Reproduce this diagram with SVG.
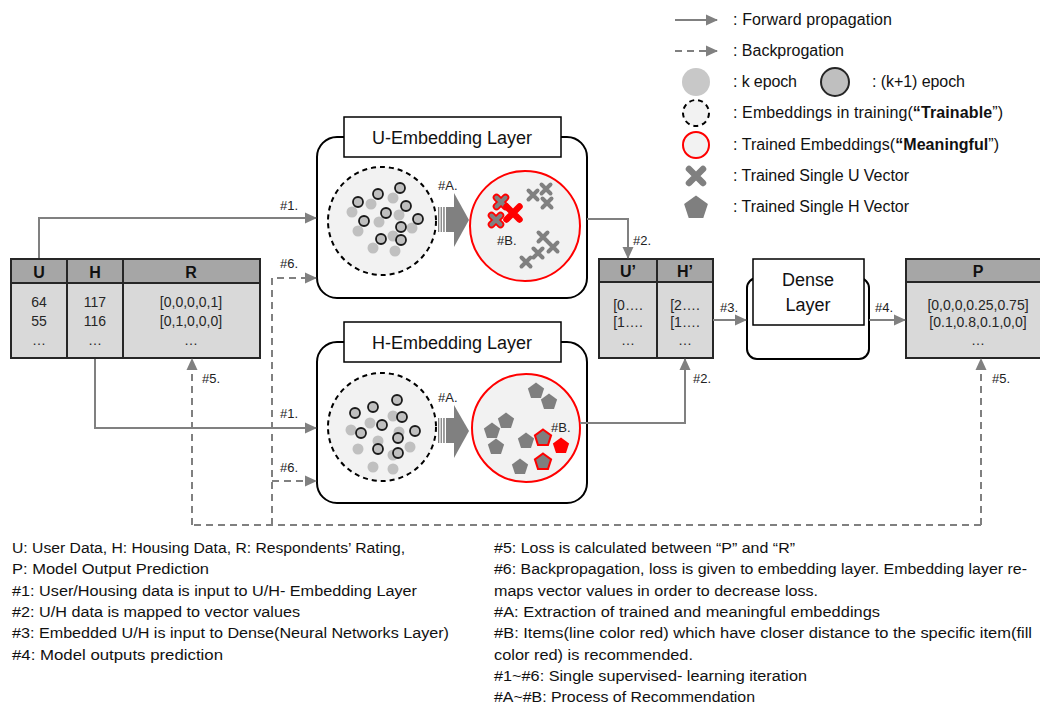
<svg xmlns="http://www.w3.org/2000/svg" xmlns:xlink="http://www.w3.org/1999/xlink" width="1040" height="706" viewBox="0 0 1040 706">
<style>
text{font-family:"Liberation Sans",Arial,sans-serif;fill:#111}
.leg{font-size:16px}
.note{font-size:15.5px}
.lbl{font-size:13px;fill:#222}
.hdr{font-size:16px;font-weight:bold;text-anchor:middle}
.cell{font-size:14px;text-anchor:middle;fill:#262626}
.ttl{font-size:18px;text-anchor:middle}
.fw{stroke:#808080;stroke-width:2;fill:none}
.bw{stroke:#808080;stroke-width:2;fill:none;stroke-dasharray:7 5}
.tbl{stroke:#262626;stroke-width:2}
.hd{fill:#a6a6a6}
.bd{fill:#d9d9d9}
.lt{fill:#c0c0c0}
.dk{fill:#bfbfbf;stroke:#1a1a1a;stroke-width:1.8}
.train{fill:#f2f2f2;stroke:#000;stroke-width:2;stroke-dasharray:5 4}
.done{fill:#f2f2f2;stroke:#ff0000;stroke-width:2}
.box{fill:#fff;stroke:#000;stroke-width:2}
.gx{stroke:#808080;stroke-width:4;stroke-linecap:round;fill:none}
.rxo{stroke:#ff0000;stroke-width:7.5;stroke-linecap:round;fill:none}
.rx{stroke:#ff0000;stroke-width:6.5;stroke-linecap:round;fill:none}
.gp{fill:#7f7f7f}
.rp{fill:#7f7f7f;stroke:#ff0000;stroke-width:2}
.fp{fill:#ff0000}
.big{fill:#808080}
</style>
<defs>
<marker id="ah" markerWidth="12" markerHeight="12" refX="11" refY="6" orient="auto" markerUnits="userSpaceOnUse"><path d="M0,0.5 L12,6 L0,11.5 Z" fill="#808080"/></marker>
<path id="xs" d="M-4.5,-4.5 L4.5,4.5 M4.5,-4.5 L-4.5,4.5"/>
<path id="xb" d="M-6.5,-6.5 L6.5,6.5 M6.5,-6.5 L-6.5,6.5"/>
<path id="pg" d="M0,-8.5 L8.1,-2.6 L5,6.9 L-5,6.9 L-8.1,-2.6Z"/>
</defs>
<rect width="1040" height="706" fill="#fff"/>

<g id="legend">
<path class="fw" d="M675,20 H717" marker-end="url(#ah)"/>
<text class="leg" x="733" y="25" textLength="159">: Forward propagation</text>
<path class="bw" d="M675,51 H717" marker-end="url(#ah)"/>
<text class="leg" x="733" y="56" textLength="111">: Backprogation</text>
<circle cx="696" cy="82" r="14" fill="#c8c8c8"/>
<text class="leg" x="733" y="87" textLength="64">: k epoch</text>
<circle cx="835" cy="82" r="14" fill="#bfbfbf" stroke="#262626" stroke-width="2"/>
<text class="leg" x="872" y="87" textLength="93">: (k+1) epoch</text>
<circle cx="696" cy="113" r="13" class="train"/>
<text class="leg" x="733" y="118" textLength="270">: Embeddings in training(<tspan font-weight="bold">“Trainable</tspan>”)</text>
<circle cx="696" cy="145" r="13" class="done"/>
<text class="leg" x="733" y="150" textLength="266">: Trained Embeddings(<tspan font-weight="bold">“Meaningful</tspan>”)</text>
<path d="M-7,-7 L7,7 M7,-7 L-7,7" transform="translate(696,176)" stroke="#808080" stroke-width="6.5" stroke-linecap="round" fill="none"/>
<text class="leg" x="733" y="181" textLength="176">: Trained Single U Vector</text>
<path d="M0,-12.5 L11.9,-3.9 L7.3,10.1 L-7.3,10.1 L-11.9,-3.9Z" transform="translate(696,208)" class="gp"/>
<text class="leg" x="733" y="212" textLength="176">: Trained Single H Vector</text>
</g>

<g id="input-table">
<rect x="11" y="259" width="249" height="24" class="hd"/>
<rect x="11" y="283" width="249" height="75" class="bd"/>
<rect x="11" y="259" width="249" height="99" fill="none" class="tbl"/>
<path d="M11,283 H260 M67,259 V358 M123,259 V358" class="tbl" fill="none"/>
<text class="hdr" x="39" y="278">U</text>
<text class="hdr" x="95" y="278">H</text>
<text class="hdr" x="191" y="278">R</text>
<text class="cell" x="39" y="307">64</text>
<text class="cell" x="39" y="326">55</text>
<text class="cell" x="39" y="345">…</text>
<text class="cell" x="95" y="307">117</text>
<text class="cell" x="95" y="326">116</text>
<text class="cell" x="95" y="345">…</text>
<text class="cell" x="191" y="307">[0,0,0,0,1]</text>
<text class="cell" x="191" y="326">[0,1,0,0,0]</text>
<text class="cell" x="191" y="345">…</text>
</g>

<g id="u-embedding">
<rect x="317" y="137" width="270" height="161" rx="20" class="box"/>
<rect x="344" y="117" width="217" height="40" fill="#fff" stroke="#000" stroke-width="1.5"/>
<text class="ttl" x="452" y="144">U-Embedding Layer</text>
<circle cx="382" cy="221" r="54" class="train"/>
<g class="lt">
<circle cx="393" cy="198" r="5.5"/><circle cx="371" cy="204" r="5.5"/><circle cx="352" cy="212" r="5.5"/><circle cx="399" cy="215" r="5.5"/><circle cx="379" cy="222" r="5.5"/><circle cx="412" cy="228" r="5.5"/><circle cx="358" cy="231" r="5.5"/><circle cx="393" cy="236" r="5.5"/><circle cx="373" cy="248" r="5.5"/><circle cx="395" cy="251" r="5.5"/>
</g>
<g class="dk">
<circle cx="400" cy="188" r="5"/><circle cx="378" cy="194" r="5"/><circle cx="358" cy="202" r="5"/><circle cx="406" cy="206" r="5"/><circle cx="386" cy="213" r="5"/><circle cx="364" cy="221" r="5"/><circle cx="418" cy="219" r="5"/><circle cx="401" cy="227" r="5"/><circle cx="401" cy="240" r="5"/><circle cx="381" cy="239" r="5"/>
</g>
<g class="big">
<rect x="438" y="207" width="1.3" height="25"/><rect x="440.6" y="207" width="1.3" height="25"/><rect x="443.2" y="207" width="1.5" height="25"/><rect x="446" y="207" width="9" height="25"/>
<path d="M454,193 L469,220 L454,247 Z"/>
</g>
<text class="lbl" x="438" y="190">#A.</text>
<circle cx="525" cy="226" r="55" class="done"/>
<use xlink:href="#xs" x="501" y="202" class="rxo"/><use xlink:href="#xs" x="501" y="202" class="gx"/>
<use xlink:href="#xs" x="496" y="220" class="rxo"/><use xlink:href="#xs" x="496" y="220" class="gx"/>
<use xlink:href="#xb" x="513" y="213" class="rx"/>
<use xlink:href="#xs" x="533" y="195" class="gx"/>
<use xlink:href="#xs" x="546" y="189" class="gx"/>
<use xlink:href="#xs" x="547" y="203" class="gx"/>
<use xlink:href="#xs" x="543" y="237" class="gx"/>
<use xlink:href="#xs" x="553" y="247" class="gx"/>
<use xlink:href="#xs" x="538" y="253" class="gx"/>
<use xlink:href="#xs" x="526" y="262" class="gx"/>
<text class="lbl" x="497" y="245">#B.</text>
</g>

<g id="h-embedding">
<rect x="317" y="342" width="270" height="161" rx="20" class="box"/>
<rect x="344" y="322" width="217" height="40" fill="#fff" stroke="#000" stroke-width="1.5"/>
<text class="ttl" x="452" y="349">H-Embedding Layer</text>
<circle cx="382" cy="427" r="54" class="train"/>
<g class="lt">
<circle cx="393" cy="416" r="5.5"/><circle cx="370" cy="423" r="5.5"/><circle cx="351" cy="430" r="5.5"/><circle cx="399" cy="432" r="5.5"/><circle cx="378" cy="441" r="5.5"/><circle cx="410" cy="447" r="5.5"/><circle cx="358" cy="449" r="5.5"/><circle cx="393" cy="455" r="5.5"/><circle cx="373" cy="467" r="5.5"/><circle cx="393" cy="469" r="5.5"/>
</g>
<g class="dk">
<circle cx="397" cy="400" r="5"/><circle cx="373" cy="407" r="5"/><circle cx="355" cy="413" r="5"/><circle cx="402" cy="417" r="5"/><circle cx="382" cy="425" r="5"/><circle cx="361" cy="433" r="5"/><circle cx="415" cy="431" r="5"/><circle cx="398" cy="438" r="5"/><circle cx="378" cy="449" r="5"/><circle cx="398" cy="453" r="5"/>
</g>
<g class="big">
<rect x="438" y="418" width="1.3" height="25"/><rect x="440.6" y="418" width="1.3" height="25"/><rect x="443.2" y="418" width="1.5" height="25"/><rect x="446" y="418" width="9" height="25"/>
<path d="M454,405 L469,431 L454,458 Z"/>
</g>
<text class="lbl" x="438" y="402">#A.</text>
<circle cx="526" cy="428" r="54" class="done"/>
<use xlink:href="#pg" x="536" y="391" class="gp"/>
<use xlink:href="#pg" x="549" y="402" class="gp"/>
<use xlink:href="#pg" x="506" y="421" class="gp"/>
<use xlink:href="#pg" x="492" y="431" class="gp"/>
<use xlink:href="#pg" x="496" y="447" class="gp"/>
<use xlink:href="#pg" x="526" y="441" class="gp"/>
<use xlink:href="#pg" x="520" y="467" class="gp"/>
<use xlink:href="#pg" x="543" y="438" class="rp"/>
<use xlink:href="#pg" x="543" y="462" class="rp"/>
<use xlink:href="#pg" x="561" y="446" class="fp"/>
<text class="lbl" x="551" y="432">#B.</text>
</g>

<g id="uh-prime-table">
<rect x="599" y="259" width="114" height="23" class="hd"/>
<rect x="599" y="282" width="114" height="76" class="bd"/>
<rect x="599" y="259" width="114" height="99" fill="none" class="tbl"/>
<path d="M599,282 H713 M657,259 V358" class="tbl" fill="none"/>
<text class="hdr" x="628" y="277">U’</text>
<text class="hdr" x="685" y="277">H’</text>
<text class="cell" x="628" y="310">[0….</text>
<text class="cell" x="628" y="327">[1….</text>
<text class="cell" x="628" y="345">…</text>
<text class="cell" x="685" y="310">[2….</text>
<text class="cell" x="685" y="327">[1….</text>
<text class="cell" x="685" y="345">…</text>
</g>

<g id="dense-layer">
<rect x="747" y="278" width="122" height="81" rx="10" class="box"/>
<rect x="753" y="259" width="111" height="66" fill="#fff" stroke="#000" stroke-width="1.5"/>
<text class="ttl" x="808" y="286" font-size="17.5">Dense</text>
<text class="ttl" x="808" y="311" font-size="17.5">Layer</text>
</g>

<g id="p-table">
<rect x="906" y="259" width="140" height="23" class="hd"/>
<rect x="906" y="282" width="140" height="76" class="bd"/>
<rect x="906" y="259" width="140" height="99" fill="none" class="tbl"/>
<path d="M906,282 H1046" class="tbl" fill="none"/>
<text class="hdr" x="978" y="277">P</text>
<text class="cell" x="978" y="310">[0,0,0,0.25,0.75]</text>
<text class="cell" x="978" y="327">[0.1,0.8,0.1,0,0]</text>
<text class="cell" x="978" y="345">…</text>
</g>

<g id="connectors">
<path class="fw" d="M39,258 V218 H316" marker-end="url(#ah)"/>
<path class="fw" d="M95,359 V428 H316" marker-end="url(#ah)"/>
<path class="fw" d="M587,219 H628 V258" marker-end="url(#ah)"/>
<path class="fw" d="M580,423 H685 V359" marker-end="url(#ah)"/>
<path class="fw" d="M713,320 H746" marker-end="url(#ah)"/>
<path class="fw" d="M869,320 H905" marker-end="url(#ah)"/>
<path class="bw" d="M981,525 H192"/>
<path class="bw" d="M192,525 V359" marker-end="url(#ah)"/>
<path class="bw" d="M981,525 V359" marker-end="url(#ah)"/>
<path class="bw" d="M272,525 V278 H316" marker-end="url(#ah)"/>
<path class="bw" d="M272,481 H316" marker-end="url(#ah)"/>
<text class="lbl" x="280" y="210">#1.</text>
<text class="lbl" x="280" y="268">#6.</text>
<text class="lbl" x="280" y="418">#1.</text>
<text class="lbl" x="280" y="472">#6.</text>
<text class="lbl" x="202" y="383">#5.</text>
<text class="lbl" x="633" y="245">#2.</text>
<text class="lbl" x="693" y="383">#2.</text>
<text class="lbl" x="720" y="312">#3.</text>
<text class="lbl" x="875" y="312">#4.</text>
<text class="lbl" x="992" y="383">#5.</text>
</g>

<g id="notes">
<text class="note" x="12" y="553" textLength="393" lengthAdjust="spacingAndGlyphs">U: User Data, H: Housing Data, R: Respondents’ Rating,</text>
<text class="note" x="12" y="574" textLength="197" lengthAdjust="spacingAndGlyphs">P: Model Output Prediction</text>
<text class="note" x="12" y="596" textLength="405" lengthAdjust="spacingAndGlyphs">#1: User/Housing data is input to U/H- Embedding Layer</text>
<text class="note" x="12" y="617" textLength="288" lengthAdjust="spacingAndGlyphs">#2: U/H data is mapped to vector values</text>
<text class="note" x="12" y="638" textLength="437" lengthAdjust="spacingAndGlyphs">#3: Embedded U/H is input to Dense(Neural Networks Layer)</text>
<text class="note" x="12" y="660" textLength="211" lengthAdjust="spacingAndGlyphs">#4: Model outputs prediction</text>
<text class="note" x="494" y="553" textLength="301" lengthAdjust="spacingAndGlyphs">#5: Loss is calculated between “P” and “R”</text>
<text class="note" x="494" y="574" textLength="533" lengthAdjust="spacingAndGlyphs">#6: Backpropagation, loss is given to embedding layer. Embedding layer re-</text>
<text class="note" x="494" y="596" textLength="324" lengthAdjust="spacingAndGlyphs">maps vector values in order to decrease loss.</text>
<text class="note" x="494" y="617" textLength="386" lengthAdjust="spacingAndGlyphs">#A: Extraction of trained and meaningful embeddings</text>
<text class="note" x="494" y="638" textLength="538" lengthAdjust="spacingAndGlyphs">#B: Items(line color red) which have closer distance to the specific item(fill</text>
<text class="note" x="494" y="660" textLength="199" lengthAdjust="spacingAndGlyphs">color red) is recommended.</text>
<text class="note" x="494" y="681" textLength="313" lengthAdjust="spacingAndGlyphs">#1~#6: Single supervised- learning iteration</text>
<text class="note" x="494" y="702" textLength="261" lengthAdjust="spacingAndGlyphs">#A~#B: Process of Recommendation</text>
</g>
</svg>
